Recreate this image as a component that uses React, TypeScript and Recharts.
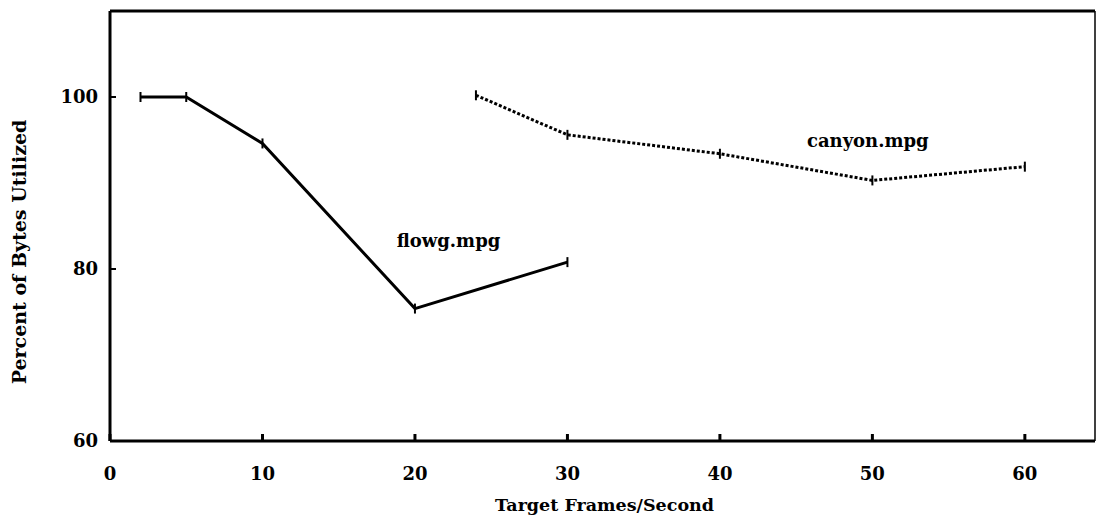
import { Label, Line, LineChart, ReferenceDot, ReferenceLine, XAxis, YAxis } from "recharts";

const flowgFps = [2, 5, 10, 20, 30];
const flowgPct = [100, 100, 94.6, 75.4, 80.8];
const canyonFps = [24, 30, 40, 50, 60];
const canyonPct = [100.2, 95.6, 93.4, 90.3, 91.9];
const xTicks = [0, 10, 20, 30, 40, 50, 60];
const yTicks = [60, 80, 100];
const rightTicks = [80, 100];

const flowg = flowgFps.map((fps, i) => ({ fps, pct: flowgPct[i] }));
const canyon = canyonFps.map((fps, i) => ({ fps, pct: canyonPct[i] }));

const font = "'DejaVu Serif', serif";

const XTick = ({ x, y, payload }: any) => (
   <g>
      <line x1={x} x2={x} y1={y} y2={y - 7} stroke="#000" strokeWidth={3} />
      <text x={x} y={y + 39} textAnchor="middle" fontFamily={font} fontSize={18} fontWeight="bold" fill="#000">
         {payload.value}
      </text>
   </g>
);

const YTick = ({ x, y, payload }: any) => (
   <g>
      <line x1={x} x2={x + 6} y1={y} y2={y} stroke="#000" strokeWidth={2} />
      <text x={x - 12} y={y} dy="0.35em" textAnchor="end" fontFamily={font} fontSize={18} fontWeight="bold" fill="#000">
         {payload.value}
      </text>
   </g>
);

const RightTick = ({ x, y }: any) => (
   <line x1={x} x2={x - 6} y1={y} y2={y} stroke="#000" strokeWidth={2} />
);

const TickDot = (props: any) => (
   <line key={props.index} x1={props.cx} x2={props.cx} y1={props.cy - 5} y2={props.cy + 5} stroke="#000" strokeWidth={2} />
);

export default function App() {
   return (
      <div style={{ position: "absolute", left: 0, top: 0, width: 1098, height: 519, background: "#fff" }}>
         <LineChart width={1098} height={519} margin={{ top: 11, right: 0, bottom: 0, left: 0 }}>
            <XAxis
               type="number"
               dataKey="fps"
               domain={[0, 64.6]}
               ticks={xTicks}
               allowDataOverflow
               height={78}
               tickSize={0}
               tickMargin={0}
               tickLine={false}
               tick={<XTick />}
               axisLine={{ stroke: "#000", strokeWidth: 3 }}
            >
               <Label value="Target Frames/Second" position="insideBottom" offset={8} dx={2} fontFamily={font} fontSize={17.5} fontWeight="bold" fill="#000" />
            </XAxis>
            <YAxis
               type="number"
               domain={[60, 110]}
               ticks={yTicks}
               allowDataOverflow
               width={110}
               tickSize={0}
               tickMargin={0}
               tickLine={false}
               tick={<YTick />}
               axisLine={{ stroke: "#000", strokeWidth: 3 }}
            >
               <Label value="Percent of Bytes Utilized" angle={-90} position="center" dx={-36} dy={26} fontFamily={font} fontSize={19} fontWeight="bold" fill="#000" />
            </YAxis>
            <YAxis
               yAxisId="right"
               orientation="right"
               type="number"
               domain={[60, 110]}
               ticks={rightTicks}
               width={3}
               tickSize={0}
               tickMargin={0}
               tickLine={false}
               tick={<RightTick />}
               axisLine={{ stroke: "#000", strokeWidth: 1.5 }}
            />
            <ReferenceLine y={110} stroke="#000" strokeWidth={3} />
            <Line
               data={flowg}
               dataKey="pct"
               name="flowg.mpg"
               stroke="#000"
               strokeWidth={3}
               dot={TickDot}
               activeDot={false}
               isAnimationActive={false}
            />
            <Line
               data={canyon}
               dataKey="pct"
               name="canyon.mpg"
               stroke="#000"
               strokeWidth={3}
               strokeDasharray="3 2"
               dot={TickDot}
               activeDot={false}
               isAnimationActive={false}
            />
            <ReferenceDot x={22.2} y={83.3} r={0} fill="none" stroke="none">
               <Label value="flowg.mpg" position="center" fontFamily={font} fontSize={18} fontWeight="bold" fill="#000" />
            </ReferenceDot>
            <ReferenceDot x={49.7} y={94.9} r={0} fill="none" stroke="none">
               <Label value="canyon.mpg" position="center" fontFamily={font} fontSize={18} fontWeight="bold" fill="#000" />
            </ReferenceDot>
         </LineChart>
      </div>
   );
}
